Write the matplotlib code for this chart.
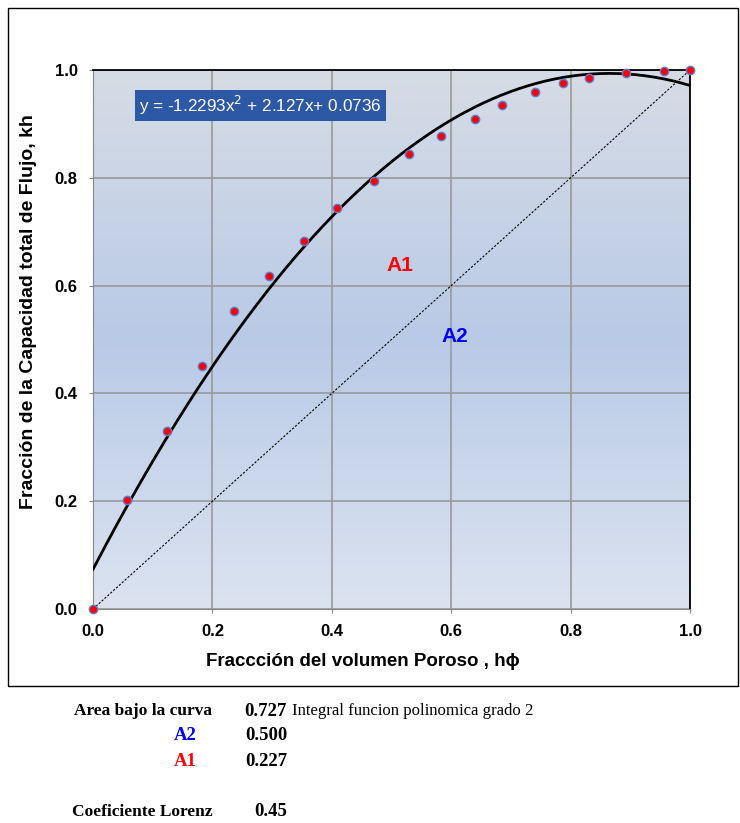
import numpy as np
import matplotlib.pyplot as plt
from matplotlib.colors import LinearSegmentedColormap
from matplotlib.patches import Rectangle

# data
h_phi = [0.0, 0.057, 0.124, 0.183, 0.236, 0.295, 0.353, 0.409, 0.471, 0.529,
         0.583, 0.640, 0.685, 0.740, 0.787, 0.831, 0.893, 0.956, 1.0]
kh = [0.0, 0.202, 0.330, 0.451, 0.553, 0.618, 0.683, 0.744, 0.794, 0.844,
      0.878, 0.909, 0.935, 0.959, 0.976, 0.985, 0.994, 0.999, 1.0]
coef = [-1.2293, 2.127, 0.0736]   # trendline, polynomial grade 2
ticks = [0.0, 0.2, 0.4, 0.6, 0.8, 1.0]

fig = plt.figure(figsize=(7.4, 8.23), dpi=100)
ax = fig.add_axes([93/740, 1-609/823, 597/740, 539/823])

# plot area gradient background
bg = LinearSegmentedColormap.from_list("bg", ["#dbe3f0", "#b9cae7", "#d6dce5"])
grad = np.linspace(0, 1, 256).reshape(-1, 1)
ax.imshow(grad, cmap=bg, origin="lower", extent=[0, 1, 0, 1], aspect="auto", zorder=0)

ax.set_xlim(0, 1)
ax.set_ylim(0, 1)
ax.set_xticks(ticks)
ax.set_yticks(ticks)
ax.set_xticklabels([f"{t:.1f}" for t in ticks], fontweight="bold", fontsize=12, family="Liberation Sans")
ax.set_yticklabels([f"{t:.1f}" for t in ticks], fontweight="bold", fontsize=12, family="Liberation Sans")
ax.grid(True, color="#999999", linewidth=1.2, zorder=1)
ax.tick_params(direction="out", length=3, color="#888888")
ax.tick_params(axis="x", pad=8)
ax.tick_params(axis="y", pad=8)
for s in ["left", "bottom"]:
    ax.spines[s].set_color("#888888")
for s in ["top", "right"]:
    ax.spines[s].set_color("black")
    ax.spines[s].set_linewidth(1.3)

# equal line
ax.plot([0, 1], [0, 1], color="black", linestyle=(0, (2, 1.5)), linewidth=0.8, zorder=2)

# trendline
xs = np.linspace(0, 1, 200)
ax.plot(xs, np.polyval(coef, xs), color="black", linewidth=2, zorder=3)

ax.scatter(h_phi, kh, s=36, color="red", edgecolors="#5b7fd0", linewidths=1, zorder=4, clip_on=False)

ax.text(0.28, 0.934, "y = -1.2293x$^2$ + 2.127x+ 0.0736", color="white", fontsize=12.3,
        family="Liberation Sans", ha="center", va="center", zorder=5,
        bbox=dict(boxstyle="square,pad=0.25", facecolor="#2d58a6", edgecolor="none"))

ax.text(0.514, 0.638, "A1", color="red", fontsize=15, fontweight="bold",
        family="Liberation Sans", ha="center", va="center")
ax.text(0.606, 0.505, "A2", color="blue", fontsize=15, fontweight="bold",
        family="Liberation Sans", ha="center", va="center")

ax.set_xlabel("Fraccción del volumen Poroso , h\u03d5", fontsize=13.5, fontweight="bold",
              family="Liberation Sans")
ax.set_ylabel("Fracción de la Capacidad total de Flujo, kh", fontsize=14, fontweight="bold",
              family="Liberation Sans")
ax.xaxis.set_label_coords(0.452, -0.082)
ax.yaxis.set_label_coords(-0.094, 0.551)

# outer chart border
fig.patches.append(Rectangle((8/740, 1-686/823), 730/740, 678/823, transform=fig.transFigure,
                             fill=False, edgecolor="black", linewidth=1))

# summary table under the chart
def ft(x, y, s, size=12.5, **kw):
    fig.text(x/740, 1-y/823, s, family="Liberation Serif", fontsize=size, va="center", **kw)

ft(212, 711, "Area bajo la curva", ha="right", fontweight="bold")
ft(287, 711, "0.727", 13.5, ha="right", fontweight="bold")
ft(292, 711, "Integral funcion polinomica grado 2", 12.1, ha="left")
ft(197, 736, "A2", 13.5, ha="right", fontweight="bold", color="blue")
ft(287, 736, "0.500", 13.5, ha="right", fontweight="bold")
ft(197, 762, "A1", 13.5, ha="right", fontweight="bold", color="red")
ft(287, 762, "0.227", 13.5, ha="right", fontweight="bold")
ft(213, 812, "Coeficiente Lorenz", ha="right", fontweight="bold")
ft(287, 812, "0.45", 13.5, ha="right", fontweight="bold")

fig.savefig("out.png", dpi=100)
